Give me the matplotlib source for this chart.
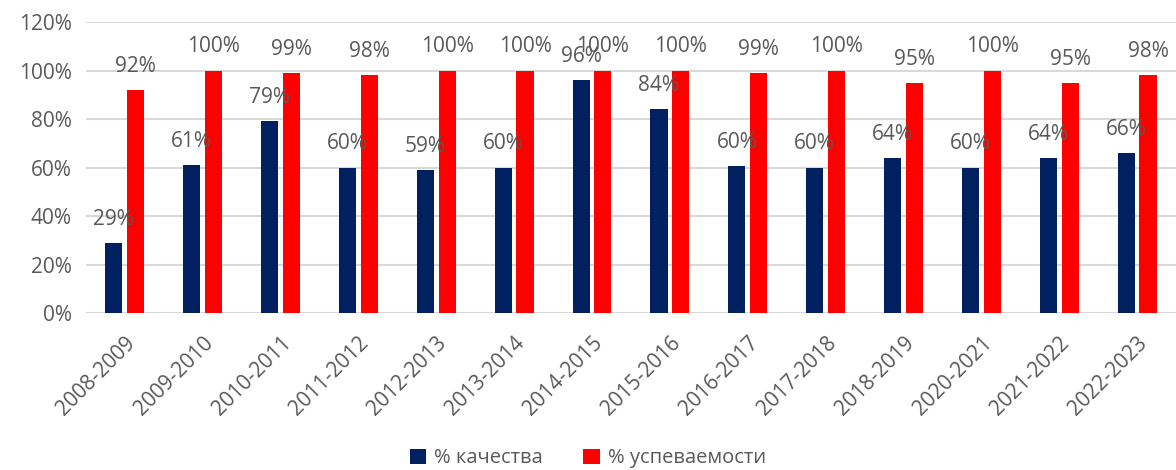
import numpy as np
import matplotlib
matplotlib.use("Agg")
import matplotlib.pyplot as plt
import matplotlib.ticker as ticker

years = [
    "2008-2009", "2009-2010", "2010-2011", "2011-2012", "2012-2013",
    "2013-2014", "2014-2015", "2015-2016", "2016-2017", "2017-2018",
    "2018-2019", "2020-2021", "2021-2022", "2022-2023",
]
quality = [29, 61, 79, 60, 59, 60, 96, 84, 60.5, 60, 64, 60, 64, 66]
progress = [92, 100, 99, 98, 100, 100, 100, 100, 99, 100, 95, 100, 95, 98]

quality_color = "#002060"
progress_color = "#ff0000"
text_color = "#595959"

plt.rcParams["font.family"] = ["Open Sans", "DejaVu Sans"]

fig = plt.figure(figsize=(11.76, 4.70), dpi=100)
ax = fig.add_axes([0.073, 0.334, 0.927, 0.619])

x = np.arange(len(years))
width = 0.22
offset = 0.14

q = np.array(quality) / 100
p = np.array(progress) / 100
bars_q = ax.bar(x - offset, q, width, color=quality_color, label="% качества", zorder=3)
bars_p = ax.bar(x + offset, p, width, color=progress_color, label="% успеваемости", zorder=3)

for bars, vals in ((bars_q, quality), (bars_p, progress)):
    for b, v in zip(bars, vals):
        ax.annotate(
            f"{round(v)}%",
            (b.get_x() + b.get_width() / 2, b.get_height()),
            xytext=(0, 17),
            textcoords="offset points",
            ha="center",
            va="center",
            fontsize=15,
            color=text_color,
            zorder=4,
        )

ax.set_ylim(0, 1.2)
ax.set_xlim(-0.5, len(years) - 0.5)
ax.yaxis.set_major_locator(ticker.MultipleLocator(0.2))
ax.yaxis.set_major_formatter(ticker.FuncFormatter(lambda v, pos: f"{v * 100:.0f}%"))
ax.grid(axis="y", color="#d9d9d9", linewidth=1.5, zorder=0)
ax.set_axisbelow(True)

ax.set_xticks(x)
ax.set_xticklabels(years, rotation=45, ha="right", rotation_mode="anchor")
ax.tick_params(axis="both", length=0, labelsize=15, labelcolor=text_color)
ax.tick_params(axis="y", pad=10)
ax.tick_params(axis="x", pad=14)
for s in ax.spines.values():
    s.set_visible(False)

fig.legend(
    loc="lower center",
    bbox_to_anchor=(0.5, -0.035),
    ncol=2,
    frameon=False,
    fontsize=14.5,
    labelcolor=text_color,
    handlelength=0.8,
    handleheight=0.8,
    handletextpad=0.4,
    columnspacing=2.0,
)

fig.savefig("out.png", dpi=100)
